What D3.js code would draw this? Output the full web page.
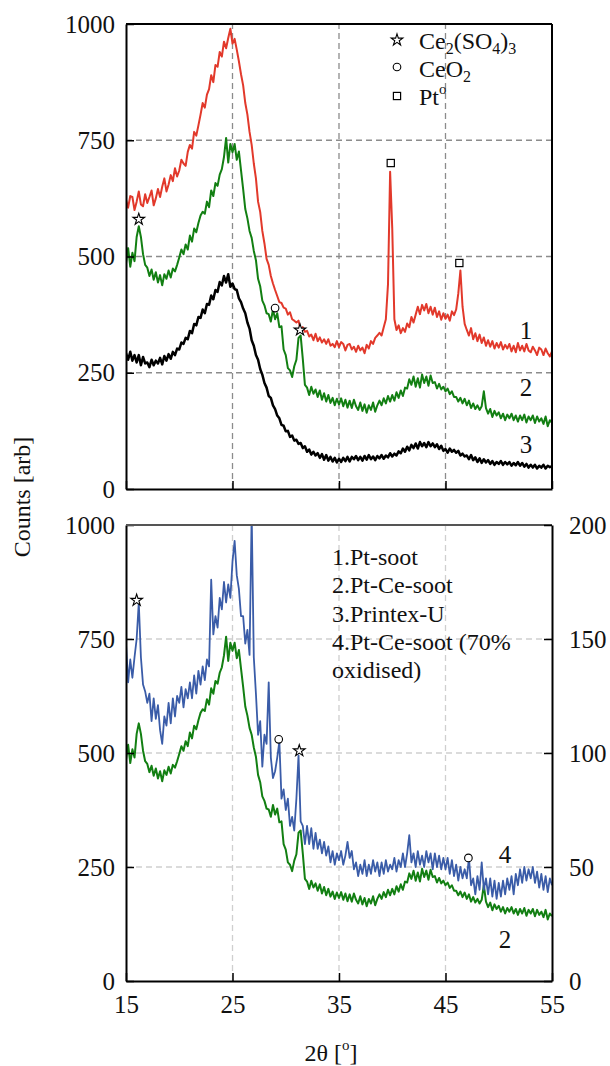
<!DOCTYPE html>
<html>
<head>
<meta charset="utf-8">
<script src="https://cdn.jsdelivr.net/npm/d3@7"></script>
<style>
body { margin: 0; background: #fff; }
svg text { font-family: "Liberation Serif", "Times New Roman", Times, "DejaVu Serif", serif; fill: #111; }
</style>
</head>
<body>
<div id="canvas"></div>
<script>
// 2theta grid, 15..55 in 0.2 deg steps (index i -> 15 + 0.2*i)
var thetaStart = 15, thetaStep = 0.2;

// 1. Pt-soot (top panel, left axis)
var ptSoot = [
  622, 605, 630, 628, 600,  618, 640, 612, 608, 634,  615, 628, 642, 610, 625,
  645, 628, 650, 668, 640,  655, 675, 662, 690, 672,  685, 708, 700, 695, 725,
  740, 732, 768, 760, 782,  805, 830, 820, 848, 860,  890, 875, 912, 908, 940,
  930, 962, 948, 970, 990,  958, 968, 945, 920, 892,  868, 830, 805, 768, 740,
  700, 668, 618, 596, 555,  528, 495, 482, 458, 442,  428, 415, 402, 400, 390,
  388, 375, 380, 365, 362,  358, 362, 342, 348, 338,  340, 328, 332, 320, 334,
  318, 326, 315, 322, 312,  322, 308, 312, 305, 318,  305, 316, 312, 298, 310,
  312, 300, 306, 295, 308,  298, 304, 292, 310, 302,  318, 312, 325, 330, 336,
  330, 348, 365, 440, 682,  560, 365, 342, 352, 335,  346, 338, 356, 348, 370,
  358, 375, 392, 376, 396,  384, 398, 378, 392, 375,  390, 370, 382, 364, 378,
  366, 375, 362, 382, 374,  386, 420, 470, 392, 355,  342, 330, 346, 322, 335,
  318, 332, 314, 326, 308,  320, 306, 318, 302, 314,  304, 316, 300, 310, 302,
  312, 296, 308, 294, 314,  298, 308, 296, 312, 298,  294, 306, 298, 288, 304,
  300, 288, 302, 292, 285,  296
];

// 2. Pt-Ce-soot (both panels, left axis)
var ptCeSoot = [
  485, 518, 478, 508, 490,  542, 565, 542, 505, 482,  476, 458, 472, 450, 466,
  444, 460, 438, 462, 452,  470, 455, 474, 468, 482,  498, 515, 505, 526, 515,
  545, 532, 560, 552, 572,  588, 596, 592, 618, 606,  642, 630, 658, 652, 676,
  688, 714, 755, 702, 742,  724, 742, 708, 726, 685,  645, 602, 582, 555, 540,
  512, 492, 452, 436, 405,  395, 378, 376, 360, 386,  365, 378, 348, 350, 300,
  288, 260, 255, 241, 264,  278, 325, 330, 280, 224,  218, 202, 220, 205, 214,
  198, 212, 192, 206, 188,  202, 185, 196, 180, 194,  182, 195, 178, 192, 175,
  190, 174, 192, 178, 170,  186, 168, 182, 164, 180,  170, 186, 166, 180, 190,
  180, 195, 184, 200, 188,  202, 190, 208, 196, 212,  200, 218, 216, 236, 224,
  242, 220, 238, 218, 246,  228, 242, 222, 244, 228,  230, 216, 226, 214, 220,
  210, 216, 204, 210, 198,  198, 188, 196, 184, 194,  180, 190, 174, 184, 172,
  180, 170, 178, 210, 174,  162, 172, 155, 168, 158,  165, 152, 162, 148, 160,
  152, 162, 148, 158, 145,  158, 148, 160, 143, 156,  148, 158, 142, 156, 145,
  152, 140, 156, 135, 148,  142
];

// 3. Printex-U (top panel, left axis)
var printexU = [
  292, 278, 295, 276, 288,  272, 288, 266, 284, 270,  272, 262, 278, 266, 276,
  270, 282, 268, 286, 276,  290, 280, 295, 288, 302,  300, 315, 312, 325, 322,
  340, 335, 355, 352, 370,  368, 386, 378, 398, 396,  416, 408, 428, 424, 445,
  438, 458, 444, 462, 435,  442, 430, 428, 410, 402,  388, 378, 358, 345, 320,
  308, 288, 278, 258, 246,  228, 218, 200, 196, 180,  172, 158, 152, 138, 136,
  124, 125, 112, 115, 104,  106, 97, 99, 88, 92,      80, 85, 74, 80, 72,
  77, 67, 75, 63, 73,       61, 69, 59, 67, 57,       65, 58, 67, 60, 69,
  59, 69, 64, 71, 62,       69, 61, 71, 63, 73,       64, 70, 62, 71, 66,
  73, 65, 72, 68, 77,       70, 76, 72, 81, 77,       87, 80, 91, 83, 95,
  88, 98, 87, 101, 92,      99, 90, 101, 92, 98,      90, 96, 86, 93, 82,
  86, 78, 87, 80, 84,       78, 82, 72, 76, 70,       72, 64, 73, 62, 68,
  58, 66, 56, 64, 57,       62, 54, 60, 52, 58,       54, 60, 52, 58, 53,
  58, 50, 56, 51, 58,       50, 56, 48, 54, 46,       52, 46, 52, 44, 50,
  46, 52, 44, 50, 47,       49
];

// 4. Pt-Ce-soot 70% oxidised (bottom panel, right axis 0-200)
var ptCeOxid = [
  148, 131, 141, 133, 142,  150, 166, 142, 130, 127,  122, 126, 114, 124, 115,
  121, 110, 104, 116, 112,  122, 113, 124, 116, 125,  122, 129, 120, 128, 124,
  131, 124, 134, 126, 136,  130, 138, 132, 141, 138,  176, 152, 160, 155, 168,
  163, 175, 166, 174, 168,  184, 193, 178, 172, 160,  160, 148, 154, 143, 205,
  142, 126, 108, 114, 94,   108, 104, 131, 98, 89,    92, 98, 105, 80, 84,
  75, 80, 68, 72, 66,       80, 99, 70, 68, 60,       68, 60, 67, 58, 65,
  58, 62, 56, 61, 55,       59, 52, 57, 51, 56,       53, 57, 51, 55, 61,
  54, 57, 49, 52, 46,       51, 47, 53, 46, 51,       47, 53, 48, 52, 46,
  52, 47, 53, 48, 51,       49, 54, 48, 53, 50,       56, 50, 56, 64, 52,
  56, 50, 57, 51, 55,       50, 57, 52, 56, 49,       56, 50, 55, 49, 54,
  49, 54, 47, 53, 46,       51, 44, 50, 45, 49,       45, 54, 42, 45, 38,
  46, 40, 52, 40, 45,       38, 45, 37, 44, 36,       43, 37, 44, 38, 45,
  40, 46, 38, 47, 42,       49, 43, 50, 44, 49,       45, 50, 43, 48, 41,
  47, 40, 46, 39, 45,       42
];

var xTicks = [15, 25, 35, 45, 55];
var yTicks = [0, 250, 500, 750, 1000];
var yRightTicks = [0, 50, 100, 150, 200];

// phase markers: [2theta, counts]
var topStars = [[16.2, 580], [31.34, 342]];
var topCircles = [[29.0, 389]];
var topSquares = [[39.86, 701], [46.3, 486]];
var botStars = [[16.0, 835], [31.27, 505]];
var botCircles = [[29.34, 530], [47.15, 270]];

var legendLabels = ["1.Pt-soot", "2.Pt-Ce-soot", "3.Printex-U", "4.Pt-Ce-soot (70%", "oxidised)"];

var width = 610, height = 1066;
var svg = d3.select("#canvas").append("svg").attr("width", width).attr("height", height);

var x = d3.scaleLinear().domain([15, 55]).range([126, 552]);
var yTop = d3.scaleLinear().domain([0, 1000]).range([489, 24]);
var yBot = d3.scaleLinear().domain([0, 1000]).range([981, 525]);
var yRight = d3.scaleLinear().domain([0, 200]).range([981, 525]);

function theta(i) { return thetaStart + thetaStep * i; }

svg.append("clipPath").attr("id", "clipTop").append("rect")
    .attr("x", x(15)).attr("y", yTop(1000)).attr("width", x(55) - x(15)).attr("height", yTop(0) - yTop(1000));
svg.append("clipPath").attr("id", "clipBot").append("rect")
    .attr("x", x(15)).attr("y", yBot(1000)).attr("width", x(55) - x(15)).attr("height", yBot(0) - yBot(1000));

function grid(yScale, color) {
    var g = svg.append("g");
    [250, 500, 750].forEach(function(v) {
        g.append("line").attr("x1", x(15)).attr("x2", x(55)).attr("y1", yScale(v)).attr("y2", yScale(v))
            .attr("stroke", color).attr("stroke-width", 1.3).attr("stroke-dasharray", "6,4");
    });
    [25, 35, 45].forEach(function(v) {
        g.append("line").attr("x1", x(v)).attr("x2", x(v)).attr("y1", yScale(0)).attr("y2", yScale(1000))
            .attr("stroke", color).attr("stroke-width", 1.3).attr("stroke-dasharray", "6,4");
    });
}
grid(yTop, "#8c8c8c");
grid(yBot, "#cfcfcf");

function drawSeries(values, yScale, color, w, clip) {
    var line = d3.line().x(function(d, i) { return x(theta(i)); }).y(function(d) { return yScale(d); });
    svg.append("path").datum(values)
        .attr("d", line)
        .attr("fill", "none")
        .attr("stroke", color)
        .attr("stroke-width", w)
        .attr("stroke-linejoin", "round")
        .attr("clip-path", "url(#" + clip + ")");
}

drawSeries(printexU, yTop, "#000000", 2.5, "clipTop");
drawSeries(ptCeSoot, yTop, "#127f12", 2, "clipTop");
drawSeries(ptSoot, yTop, "#e2392b", 2, "clipTop");

drawSeries(ptCeSoot, yBot, "#127f12", 2, "clipBot");
drawSeries(ptCeOxid, yRight, "#3a5ca8", 1.8, "clipBot");

// axes
function styleAxis(g) {
    g.attr("font-family", null);
    g.select(".domain").attr("stroke-width", 2);
    g.selectAll(".tick line").attr("stroke-width", 1.5);
    g.selectAll("text").style("font-size", "25px").attr("fill", "#111");
}
function frame(yScale, leftTicks, rightAxis) {
    var top = yScale(1000), bot = yScale(0);
    var gl = svg.append("g").attr("transform", "translate(" + x(15) + ",0)")
        .call(d3.axisLeft(yScale).tickValues(leftTicks).tickSizeInner(-8).tickSizeOuter(0).tickPadding(11).tickFormat(d3.format("d")));
    styleAxis(gl);

    var gb = svg.append("g").attr("transform", "translate(0," + bot + ")")
        .call(d3.axisBottom(x).tickValues(xTicks).tickSizeInner(-8).tickSizeOuter(0).tickPadding(14).tickFormat(rightAxis ? d3.format("d") : ""));
    styleAxis(gb);

    svg.append("line").attr("x1", x(15)).attr("x2", x(55)).attr("y1", top).attr("y2", top)
        .attr("stroke", rightAxis ? "#555" : "#000").attr("stroke-width", 2);

    if (rightAxis) {
        var gr = svg.append("g").attr("transform", "translate(" + x(55) + ",0)")
            .call(d3.axisRight(yRight).tickValues(yRightTicks).tickSizeInner(-8).tickSizeOuter(0).tickPadding(17));
        styleAxis(gr);
    } else {
        svg.append("line").attr("x1", x(55)).attr("x2", x(55)).attr("y1", top).attr("y2", bot)
            .attr("stroke", "#000").attr("stroke-width", 2);
    }
}
frame(yTop, yTicks, false);
frame(yBot, yTicks, true);

// phase markers
var star = d3.symbol().type(d3.symbolStar).size(42);
function stars(list, yScale) {
    list.forEach(function(p) {
        svg.append("path").attr("d", star).attr("transform", "translate(" + x(p[0]) + "," + yScale(p[1]) + ")")
            .attr("fill", "#fff").attr("stroke", "#000").attr("stroke-width", 1.1);
    });
}
function circles(list, yScale) {
    list.forEach(function(p) {
        svg.append("circle").attr("cx", x(p[0])).attr("cy", yScale(p[1])).attr("r", 3.8)
            .attr("fill", "#fff").attr("stroke", "#000").attr("stroke-width", 1.1);
    });
}
function squares(list, yScale) {
    list.forEach(function(p) {
        svg.append("rect").attr("x", x(p[0]) - 3.6).attr("y", yScale(p[1]) - 3.6).attr("width", 7.2).attr("height", 7.2)
            .attr("fill", "#fff").attr("stroke", "#000").attr("stroke-width", 1.2);
    });
}
stars(topStars, yTop);
circles(topCircles, yTop);
squares(topSquares, yTop);
stars(botStars, yBot);
circles(botCircles, yBot);

// phase legend (top panel)
svg.append("path").attr("d", star).attr("transform", "translate(397,40)").attr("fill", "#fff").attr("stroke", "#000").attr("stroke-width", 1.1);
svg.append("circle").attr("cx", 397).attr("cy", 67).attr("r", 3.8).attr("fill", "#fff").attr("stroke", "#000").attr("stroke-width", 1.1);
svg.append("rect").attr("x", 393.4).attr("y", 92.4).attr("width", 7.2).attr("height", 7.2).attr("fill", "#fff").attr("stroke", "#000").attr("stroke-width", 1.2);

var t1 = svg.append("text").attr("x", 419).attr("y", 49).style("font-size", "24px");
t1.append("tspan").text("Ce");
t1.append("tspan").text("2").style("font-size", "16px").attr("dy", 5);
t1.append("tspan").text("(SO").attr("dy", -5);
t1.append("tspan").text("4").style("font-size", "16px").attr("dy", 5);
t1.append("tspan").text(")").attr("dy", -5);
t1.append("tspan").text("3").style("font-size", "16px").attr("dy", 5);

var t2 = svg.append("text").attr("x", 419).attr("y", 77).style("font-size", "24px");
t2.append("tspan").text("CeO");
t2.append("tspan").text("2").style("font-size", "16px").attr("dy", 5);

var t3 = svg.append("text").attr("x", 419).attr("y", 105).style("font-size", "24px");
t3.append("tspan").text("Pt");
t3.append("tspan").text("o").style("font-size", "15px").attr("dy", -11);

// curve numbers
[["1", 526, 339], ["2", 526, 396], ["3", 526, 453], ["4", 505, 863], ["2", 505, 948]].forEach(function(l) {
    svg.append("text").attr("x", l[1]).attr("y", l[2]).attr("text-anchor", "middle").style("font-size", "25px").text(l[0]);
});

// sample legend (bottom panel)
legendLabels.forEach(function(s, i) {
    svg.append("text").attr("x", 332).attr("y", 565 + i * 28.3).style("font-size", "24px").text(s);
});

// axis titles
svg.append("text").attr("transform", "translate(30,497) rotate(-90)").attr("text-anchor", "middle")
    .style("font-size", "24px").text("Counts [arb]");

var xt = svg.append("text").attr("x", 331).attr("y", 1061).attr("text-anchor", "middle").style("font-size", "24px");
xt.append("tspan").text("2θ [");
xt.append("tspan").text("o").style("font-size", "15px").attr("dy", -11);
xt.append("tspan").text("]").attr("dy", 11);
</script>
</body>
</html>
